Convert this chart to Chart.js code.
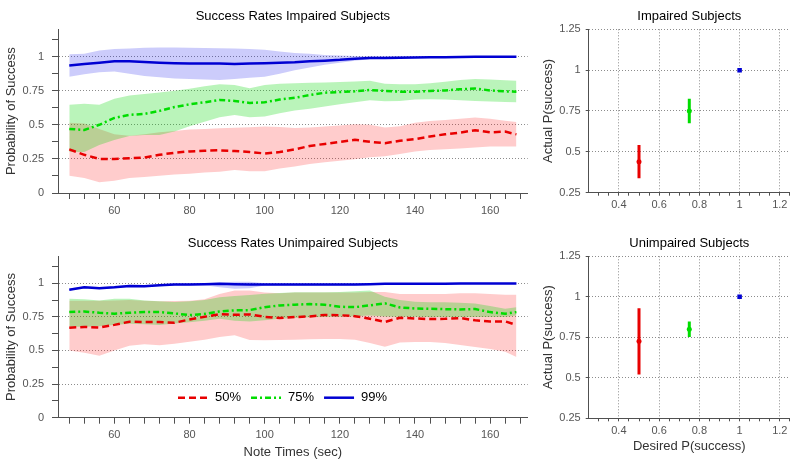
<!DOCTYPE html>
<html><head>
<meta charset="UTF-8">
<title>Success Rates</title>
<script src="https://cdn.jsdelivr.net/npm/chart.js@4/dist/chart.umd.min.js"></script>
<style>
  body { margin: 0; background: #fff; width: 800px; height: 462px; position: relative; overflow: hidden; }
  canvas { position: absolute; }
  #tl { left: 0; top: 0; }
  #bl { left: 0; top: 227px; }
  #tr { left: 530px; top: 0; }
  #br { left: 530px; top: 227px; }
</style>
</head>
<body>
<canvas id="tl" width="540" height="223"></canvas>
<canvas id="bl" width="540" height="235"></canvas>
<canvas id="tr" width="270" height="223"></canvas>
<canvas id="br" width="270" height="235"></canvas>
<script>
// time axis (sec)
const noteTimes = [48,52,56,60,64,68,72,76,80,84,88,92,96,100,104,108,112,116,120,124,128,132,136,140,144,148,152,156,160,164,167];

// impaired subjects, mean success and band
const impaired50   = [0.32,0.28,0.25,0.25,0.255,0.26,0.28,0.295,0.305,0.31,0.313,0.308,0.30,0.29,0.30,0.32,0.345,0.36,0.375,0.39,0.375,0.365,0.383,0.395,0.415,0.43,0.443,0.46,0.445,0.45,0.43];
const impaired50Hi = [0.515,0.51,0.47,0.43,0.42,0.43,0.445,0.455,0.465,0.47,0.475,0.478,0.482,0.487,0.483,0.476,0.48,0.487,0.495,0.504,0.5,0.48,0.49,0.515,0.528,0.535,0.545,0.553,0.545,0.53,0.52];
const impaired50Lo = [0.127,0.11,0.078,0.09,0.11,0.118,0.127,0.135,0.142,0.15,0.156,0.169,0.16,0.16,0.18,0.195,0.212,0.225,0.237,0.248,0.262,0.27,0.285,0.305,0.315,0.32,0.326,0.333,0.34,0.34,0.34];
const impaired75   = [0.47,0.462,0.50,0.55,0.573,0.58,0.602,0.63,0.65,0.665,0.682,0.675,0.66,0.665,0.685,0.698,0.718,0.735,0.74,0.745,0.755,0.748,0.743,0.743,0.748,0.752,0.76,0.766,0.752,0.745,0.742];
const impaired75Hi = [0.646,0.655,0.646,0.69,0.715,0.726,0.737,0.75,0.765,0.782,0.797,0.792,0.768,0.792,0.8,0.805,0.808,0.81,0.813,0.817,0.822,0.8,0.797,0.797,0.805,0.815,0.828,0.836,0.832,0.826,0.822];
const impaired75Lo = [0.30,0.30,0.352,0.389,0.418,0.425,0.425,0.45,0.49,0.523,0.555,0.572,0.555,0.56,0.585,0.605,0.618,0.635,0.65,0.665,0.68,0.672,0.675,0.685,0.687,0.685,0.68,0.675,0.67,0.667,0.665];
const impaired99   = [0.934,0.945,0.955,0.965,0.965,0.96,0.955,0.952,0.95,0.95,0.95,0.945,0.95,0.952,0.955,0.958,0.965,0.97,0.976,0.985,0.99,0.99,0.992,0.994,0.995,0.996,0.997,0.998,0.998,0.998,0.998];
const impaired99Hi = [1.018,1.02,1.045,1.056,1.06,1.064,1.066,1.066,1.065,1.063,1.062,1.06,1.055,1.05,1.038,1.027,1.02,1.012,1.008,1.005,1.003,1.002,1.002,1.001,1.0,1.0,1.0,1.0,1.0,1.0,1.0];
const impaired99Lo = [0.853,0.87,0.885,0.89,0.875,0.858,0.848,0.84,0.835,0.832,0.829,0.836,0.845,0.853,0.875,0.9,0.92,0.94,0.955,0.97,0.98,0.985,0.988,0.99,0.992,0.994,0.995,0.996,0.996,0.996,0.996];

// unimpaired subjects
const unimpaired50   = [0.669,0.675,0.67,0.69,0.714,0.711,0.711,0.706,0.73,0.75,0.77,0.765,0.768,0.75,0.741,0.748,0.753,0.764,0.762,0.755,0.736,0.712,0.743,0.738,0.733,0.735,0.741,0.724,0.716,0.716,0.69];
const unimpaired50Hi = [0.87,0.87,0.87,0.872,0.875,0.87,0.865,0.868,0.87,0.88,0.92,0.945,0.945,0.93,0.925,0.93,0.93,0.93,0.93,0.93,0.935,0.935,0.92,0.92,0.92,0.92,0.925,0.925,0.92,0.915,0.915];
const unimpaired50Lo = [0.50,0.482,0.46,0.5,0.535,0.546,0.539,0.55,0.565,0.58,0.6,0.613,0.578,0.575,0.578,0.58,0.583,0.586,0.585,0.58,0.555,0.528,0.56,0.563,0.563,0.555,0.54,0.525,0.51,0.49,0.452];
const unimpaired75   = [0.785,0.79,0.78,0.773,0.78,0.785,0.785,0.775,0.763,0.772,0.79,0.798,0.8,0.822,0.835,0.84,0.845,0.84,0.825,0.822,0.835,0.85,0.82,0.812,0.81,0.807,0.805,0.808,0.785,0.773,0.785];
const unimpaired75Hi = [0.884,0.88,0.872,0.885,0.885,0.872,0.866,0.86,0.865,0.875,0.895,0.905,0.912,0.921,0.927,0.932,0.933,0.933,0.935,0.94,0.946,0.9,0.875,0.862,0.859,0.859,0.855,0.85,0.83,0.81,0.822];
const unimpaired75Lo = [0.677,0.677,0.68,0.69,0.699,0.695,0.69,0.7,0.71,0.72,0.736,0.72,0.715,0.725,0.736,0.742,0.746,0.748,0.75,0.755,0.76,0.752,0.75,0.75,0.748,0.748,0.748,0.748,0.748,0.748,0.76];
const unimpaired99   = [0.951,0.97,0.963,0.97,0.98,0.978,0.985,0.99,0.99,0.993,0.995,0.993,0.99,0.99,0.99,0.99,0.99,0.99,0.99,0.99,0.993,0.995,0.995,0.995,0.995,0.995,0.997,0.998,0.998,0.998,0.998];
const unimpaired99Hi = [0.96,0.978,0.972,0.978,0.988,0.986,0.993,0.998,0.998,1.0,1.005,1.01,1.01,1.0,0.998,0.998,0.998,0.998,0.998,0.998,1.0,1.0,1.0,1.0,1.0,1.0,1.002,1.002,1.002,1.002,1.002];
const unimpaired99Lo = [0.945,0.962,0.955,0.962,0.972,0.97,0.977,0.982,0.982,0.984,0.97,0.958,0.962,0.982,0.982,0.982,0.982,0.982,0.982,0.982,0.986,0.989,0.99,0.99,0.99,0.99,0.993,0.994,0.994,0.994,0.994];

// desired vs actual P(success)
const desiredP = [0.5, 0.75, 1.0];
const impairedMean = [0.44, 0.75, 1.0];
const impairedLow  = [0.338, 0.675, 0.99];
const impairedHigh = [0.542, 0.825, 1.01];
const unimpairedMean = [0.725, 0.80, 1.0];
const unimpairedLow  = [0.52, 0.752, 0.99];
const unimpairedHigh = [0.93, 0.848, 1.01];

// tick values
const timeTicks = [48,52,56,60,64,68,72,76,80,84,88,92,96,100,104,108,112,116,120,124,128,132,136,140,144,148,152,156,160,164,168];
const timeLabels = [60, 80, 100, 120, 140, 160];
const probTicks = [0,0.125,0.25,0.375,0.5,0.625,0.75,0.875,1,1.125];
const probLabels = [0, 0.25, 0.5, 0.75, 1];
const desiredTicks = [0.3,0.35,0.4,0.45,0.5,0.55,0.6,0.65,0.7,0.75,0.8,0.85,0.9,0.95,1,1.05,1.1,1.15,1.2,1.25];
const desiredLabels = [0.4, 0.6, 0.8, 1, 1.2];
const actualTicks = [0.25, 0.5, 0.75, 1, 1.25];

const legendLabels = ['50%', '75%', '99%'];

const red = '#e80000', green = '#00dd00', blue = '#0000d2';
const lineColors = [red, green, blue];
const lineDashes = [[7, 4], [6, 3, 2, 3], []];
const bandColors = ['rgba(255,0,0,0.2)', 'rgba(0,215,0,0.27)', 'rgba(0,0,235,0.2)'];
const axisColor = '#505050';
const gridColor = '#8c8c8c';
const fontFamily = "'Liberation Sans', Arial, Helvetica, sans-serif";

Chart.defaults.font.family = fontFamily;
Chart.defaults.animation = false;

const has = (list, v) => list.some(l => Math.abs(l - v) < 1e-6);

function series(values) {
  return noteTimes.map((t, i) => ({ x: t, y: values[i] }));
}

function timeDatasets(groups) {
  // bands first (drawn behind), then mean lines
  const sets = [];
  groups.forEach((g, i) => {
    sets.push({ data: series(g.hi), borderColor: 'rgba(0,0,0,0)', borderWidth: 0, pointRadius: 0,
                fill: '+1', backgroundColor: bandColors[i], order: 10 - i });
    sets.push({ data: series(g.lo), borderColor: 'rgba(0,0,0,0)', borderWidth: 0, pointRadius: 0,
                fill: false, order: 10 - i });
  });
  groups.forEach((g, i) => {
    sets.push({ data: series(g.mean), borderColor: lineColors[i], borderWidth: 2.5, borderDash: lineDashes[i],
                pointRadius: 0, fill: false, order: 3 - i });
  });
  return sets;
}

const lineLegend = {
  id: 'lineLegend',
  afterDraw(chart) {
    if (!chart.options.plugins.lineLegend.show) return;
    const ctx = chart.ctx, area = chart.chartArea;
    const y = area.bottom - 20;
    let x = area.left + 120;
    ctx.save();
    ctx.font = '13px ' + fontFamily;
    ctx.textBaseline = 'middle';
    ctx.fillStyle = '#000';
    legendLabels.forEach((label, i) => {
      ctx.strokeStyle = lineColors[i];
      ctx.lineWidth = 2.5;
      ctx.setLineDash(lineDashes[i]);
      ctx.beginPath();
      ctx.moveTo(x, y);
      ctx.lineTo(x + 30, y);
      ctx.stroke();
      ctx.setLineDash([]);
      ctx.fillText(label, x + 37, y);
      x += 37 + ctx.measureText(label).width + 10;
    });
    ctx.restore();
  }
};

function timeChart(id, title, groups, xAxisHeight, xTitle, showLegend) {
  return new Chart(document.getElementById(id), {
    type: 'line',
    data: { datasets: timeDatasets(groups) },
    options: {
      responsive: false,
      layout: { padding: { left: 0, right: 12.3, top: 0, bottom: 0 } },
      plugins: {
        legend: { display: false },
        tooltip: { enabled: false },
        title: { display: true, text: title, fullSize: false, color: '#000',
                 font: { size: 13, weight: 'normal' }, padding: { top: 9, bottom: 4.7 } },
        lineLegend: { show: showLegend }
      },
      scales: {
        x: {
          type: 'linear', min: 45, max: 170,
          afterBuildTicks: axis => { axis.ticks = timeTicks.map(v => ({ value: v })); },
          afterFit: axis => { axis.height = xAxisHeight; },
          ticks: { autoSkip: false, maxRotation: 0, padding: 5, color: '#555', font: { size: 11 },
                   callback: v => has(timeLabels, v) ? String(v) : '' },
          grid: { drawOnChartArea: false, tickLength: 6, tickColor: axisColor },
          border: { color: axisColor },
          title: { display: !!xTitle, text: xTitle || '', color: '#333', font: { size: 13 },
                   padding: { top: 0, bottom: 2 } }
        },
        y: {
          min: 0, max: 1.2,
          afterBuildTicks: axis => { axis.ticks = probTicks.map(v => ({ value: v })); },
          afterFit: axis => { axis.width = 58; },
          ticks: { autoSkip: false, padding: 8, color: '#555', font: { size: 11 },
                   callback: v => has(probLabels, v) ? String(v) : '' },
          grid: { tickLength: 6, tickColor: axisColor,
                  color: c => (c.tick && c.tick.value > 0 && has(probLabels, c.tick.value)) ? gridColor : 'rgba(0,0,0,0)' },
          border: { color: axisColor, dash: [1, 2] },
          title: { display: true, text: 'Probability of Success', color: '#333', font: { size: 13 },
                   padding: { top: 4, bottom: 0 } }
        }
      }
    },
    plugins: [lineLegend]
  });
}

function errorDatasets(mean, low, high) {
  const sets = desiredP.map((d, i) => ({
    data: [{ x: d, y: low[i] }, { x: d, y: high[i] }],
    showLine: true, borderColor: lineColors[i], borderWidth: 3, pointRadius: 0
  }));
  sets.push({
    data: desiredP.map((d, i) => ({ x: d, y: mean[i] })),
    pointRadius: [2.5, 2.5, 3.2], pointStyle: ['circle', 'circle', 'rect'],
    pointBackgroundColor: lineColors, pointBorderColor: lineColors, pointBorderWidth: 0
  });
  return sets;
}

function errorChart(id, title, mean, low, high, xAxisHeight, xTitle) {
  return new Chart(document.getElementById(id), {
    type: 'scatter',
    data: { datasets: errorDatasets(mean, low, high) },
    options: {
      responsive: false,
      layout: { padding: { left: 0, right: 10.1, top: 0, bottom: 0 } },
      plugins: {
        legend: { display: false },
        tooltip: { enabled: false },
        title: { display: true, text: title, fullSize: false, color: '#000',
                 font: { size: 13, weight: 'normal' }, padding: { top: 9, bottom: 4.7 } }
      },
      scales: {
        x: {
          type: 'linear', min: 0.25, max: 1.25,
          afterBuildTicks: axis => { axis.ticks = desiredTicks.map(v => ({ value: v })); },
          afterFit: axis => { axis.height = xAxisHeight; },
          ticks: { autoSkip: false, maxRotation: 0, padding: 3, color: '#555', font: { size: 11 },
                   callback: v => has(desiredLabels, v) ? String(Math.round(v * 100) / 100) : '' },
          grid: { tickLength: 3, tickColor: axisColor,
                  color: c => (c.tick && has(desiredLabels, c.tick.value)) ? gridColor : 'rgba(0,0,0,0)' },
          border: { color: axisColor, dash: [1, 2] },
          title: { display: !!xTitle, text: xTitle || '', color: '#333', font: { size: 13 },
                   padding: { top: 0, bottom: 7.5 } }
        },
        y: {
          type: 'linear', min: 0.25, max: 1.25,
          afterBuildTicks: axis => { axis.ticks = actualTicks.map(v => ({ value: v })); },
          afterFit: axis => { axis.width = 58.7; },
          ticks: { autoSkip: false, padding: 5, color: '#555', font: { size: 11 },
                   callback: v => String(v) },
          grid: { tickLength: 3, tickColor: axisColor,
                  color: c => (c.tick && c.tick.value > 0.3) ? gridColor : 'rgba(0,0,0,0)' },
          border: { color: axisColor, dash: [1, 2] },
          title: { display: true, text: 'Actual P(success)', color: '#333', font: { size: 13 },
                   padding: { top: 11, bottom: 0 } }
        }
      }
    }
  });
}

timeChart('tl', 'Success Rates Impaired Subjects', [
  { mean: impaired50, hi: impaired50Hi, lo: impaired50Lo },
  { mean: impaired75, hi: impaired75Hi, lo: impaired75Lo },
  { mean: impaired99, hi: impaired99Hi, lo: impaired99Lo }
], 30, null, false);

timeChart('bl', 'Success Rates Unimpaired Subjects', [
  { mean: unimpaired50, hi: unimpaired50Hi, lo: unimpaired50Lo },
  { mean: unimpaired75, hi: unimpaired75Hi, lo: unimpaired75Lo },
  { mean: unimpaired99, hi: unimpaired99Hi, lo: unimpaired99Lo }
], 44.3, 'Note Times (sec)', true);

errorChart('tr', 'Impaired Subjects', impairedMean, impairedLow, impairedHigh, 30.3, null);
errorChart('br', 'Unimpaired Subjects', unimpairedMean, unimpairedLow, unimpairedHigh, 43.7, 'Desired P(success)');
</script>
</body></html>
